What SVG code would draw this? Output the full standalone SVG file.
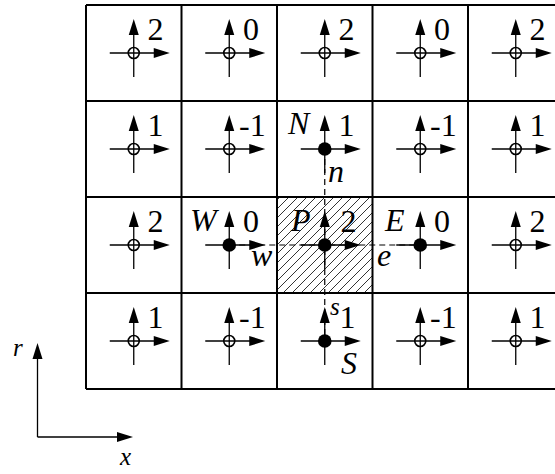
<svg xmlns="http://www.w3.org/2000/svg" xmlns:xlink="http://www.w3.org/1999/xlink" width="555" height="474" viewBox="0 0 555 474">
<style>
.grid{stroke:#000;stroke-width:2;fill:none}
.ln{stroke:#000;stroke-width:1.3;fill:none}
.dash{stroke:#000;stroke-width:1.2;stroke-dasharray:6 4;fill:none}
text{font-family:"Liberation Serif","Times New Roman",serif;fill:#000}
.num{font-size:32px}
.lab{font-style:italic;font-size:32px}
.sm{font-style:italic;font-size:25px}
.open{fill:none;stroke:#000;stroke-width:1.6}
.full{fill:#000}
.head{fill:#000}
</style>
<defs>
<pattern id="hatch" patternUnits="userSpaceOnUse" width="9" height="9">
<path d="M0,9 L9,0 M-2,2 L2,-2 M7,11 L11,7" stroke="#000" stroke-width="0.8"/>
</pattern>
<g id="ax">
<line class="ln" x1="-24" y1="0" x2="24" y2="0"/>
<line class="ln" x1="0" y1="24" x2="0" y2="-22"/>
<polygon class="head" points="36,0 20,-5 20,5"/>
<polygon class="head" points="0,-34 -5,-18 5,-18"/>
</g>
<g id="o"><use xlink:href="#ax"/><circle class="open" r="5.5"/></g>
<g id="f"><use xlink:href="#ax"/><circle class="full" r="6.8"/></g>
</defs>

<rect id="P-cell-fill" x="277" y="197" width="95.5" height="96" fill="url(#hatch)"/>

<g id="grid">
<line class="grid" x1="86" y1="5" x2="555" y2="5"/>
<line class="grid" x1="86" y1="101" x2="555" y2="101"/>
<line class="grid" x1="86" y1="197" x2="555" y2="197"/>
<line class="grid" x1="86" y1="293" x2="555" y2="293"/>
<line class="grid" x1="86" y1="389" x2="555" y2="389"/>
<line class="grid" x1="86" y1="5" x2="86" y2="389"/>
<line class="grid" x1="181.5" y1="5" x2="181.5" y2="389"/>
<line class="grid" x1="277" y1="5" x2="277" y2="389"/>
<line class="grid" x1="372.5" y1="5" x2="372.5" y2="389"/>
<line class="grid" x1="468" y1="5" x2="468" y2="389"/>
</g>

<g id="connectors">
<line class="dash" x1="229.25" y1="245" x2="420.25" y2="245"/>
<line class="dash" x1="324.75" y1="149" x2="324.75" y2="341"/>
</g>

<g id="r0c0"><use xlink:href="#o" x="133.75" y="53"/><text class="num" x="147.5" y="40">2</text></g>
<g id="r0c1"><use xlink:href="#o" x="229.25" y="53"/><text class="num" x="243" y="40">0</text></g>
<g id="r0c2"><use xlink:href="#o" x="324.75" y="53"/><text class="num" x="338.5" y="40">2</text></g>
<g id="r0c3"><use xlink:href="#o" x="420.25" y="53"/><text class="num" x="434" y="40">0</text></g>
<g id="r0c4"><use xlink:href="#o" x="515.75" y="53"/><text class="num" x="529.5" y="40">2</text></g>

<g id="r1c0"><use xlink:href="#o" x="133.75" y="149"/><text class="num" x="147.5" y="136">1</text></g>
<g id="r1c1"><use xlink:href="#o" x="229.25" y="149"/><text class="num" x="239" y="136">-1</text></g>
<g id="N"><use xlink:href="#f" x="324.75" y="149"/><text class="lab" x="288" y="134">N</text><text class="num" x="338.5" y="136">1</text><text class="lab" x="328" y="182">n</text></g>
<g id="r1c3"><use xlink:href="#o" x="420.25" y="149"/><text class="num" x="430" y="136">-1</text></g>
<g id="r1c4"><use xlink:href="#o" x="515.75" y="149"/><text class="num" x="529.5" y="136">1</text></g>

<g id="r2c0"><use xlink:href="#o" x="133.75" y="245"/><text class="num" x="147.5" y="232">2</text></g>
<g id="W"><use xlink:href="#f" x="229.25" y="245"/><text class="lab" x="190" y="231">W</text><text class="num" x="243" y="232">0</text><text class="lab" x="251" y="266">w</text></g>
<g id="P"><use xlink:href="#f" x="324.75" y="245"/><text class="lab" x="291" y="231">P</text><text class="num" x="340.5" y="232">2</text></g>
<g id="E"><use xlink:href="#f" x="420.25" y="245"/><text class="lab" x="385" y="231">E</text><text class="num" x="434" y="232">0</text><text class="lab" x="377" y="266">e</text></g>
<g id="r2c4"><use xlink:href="#o" x="515.75" y="245"/><text class="num" x="529.5" y="232">2</text></g>

<g id="r3c0"><use xlink:href="#o" x="133.75" y="341"/><text class="num" x="147.5" y="328">1</text></g>
<g id="r3c1"><use xlink:href="#o" x="229.25" y="341"/><text class="num" x="239" y="328">-1</text></g>
<g id="S"><use xlink:href="#f" x="324.75" y="341"/><text class="sm" x="330" y="315">s</text><text class="num" x="339.5" y="328">1</text><text class="lab" x="341" y="374">S</text></g>
<g id="r3c3"><use xlink:href="#o" x="420.25" y="341"/><text class="num" x="430" y="328">-1</text></g>
<g id="r3c4"><use xlink:href="#o" x="515.75" y="341"/><text class="num" x="529.5" y="328">1</text></g>

<g id="axes">
<line class="ln" x1="37.5" y1="437" x2="37.5" y2="356"/>
<line class="ln" x1="37.5" y1="437" x2="120" y2="437"/>
<polygon class="head" points="37.5,343 32.5,359 42.5,359"/>
<polygon class="head" points="133,437 117,432 117,442"/>
<text class="sm" x="13" y="356">r</text>
<text class="sm" x="120" y="465">x</text>
</g>
</svg>
